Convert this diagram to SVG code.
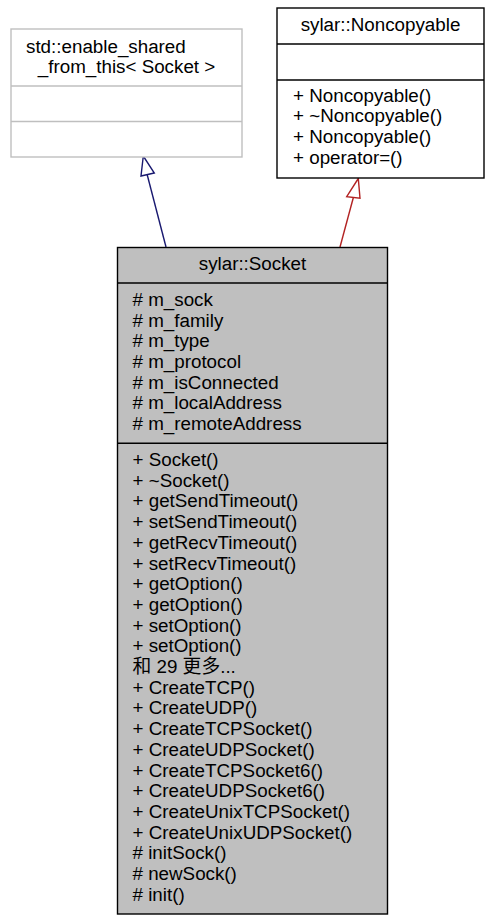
<svg xmlns="http://www.w3.org/2000/svg" width="488" height="918" viewBox="0 0 488 918">
<style>
text{font-family:"Liberation Sans",Arial,"Noto Sans CJK SC",sans-serif;font-size:18.8px;fill:#000}
.c{text-anchor:middle}
.box{fill:#fff;stroke:#000;stroke-width:1.4}
.ext{fill:#fff;stroke:#bfbfbf;stroke-width:1.4}
.cur{fill:#bfbfbf;stroke:#000;stroke-width:1.4}
.sep{stroke:#000;stroke-width:1.4}
.sepx{stroke:#bfbfbf;stroke-width:1.4}
</style>
<rect width="488" height="918" fill="#fff"/>
<g id="connectors">
<g id="edge-enable">
<line x1="166" y1="247" x2="147" y2="174" stroke="#191970" stroke-width="1.4"/>
<polygon points="143.3,156 141,176 154.3,173" fill="#fff" stroke="#191970" stroke-width="1.4"/>
</g>
<g id="edge-noncopyable">
<line x1="340" y1="247" x2="353.5" y2="197" stroke="#b22222" stroke-width="1.4"/>
<polygon points="358.3,178.5 346.7,196.7 360,198.3" fill="#fff" stroke="#b22222" stroke-width="1.4"/>
</g>
</g>
<g id="node-enable_shared_from_this">
<rect class="ext" x="11" y="29" width="231" height="128"/>
<line class="sepx" x1="11" y1="86" x2="242" y2="86"/>
<line class="sepx" x1="11" y1="121.5" x2="242" y2="121.5"/>
<text x="26" y="52.5">std::enable_shared</text>
<text class="c" x="126.5" y="73">_from_this&lt; Socket &gt;</text>
</g>
<g id="node-Noncopyable">
<rect class="box" x="277" y="8" width="207" height="170"/>
<line class="sep" x1="277" y1="44" x2="484" y2="44"/>
<line class="sep" x1="277" y1="80" x2="484" y2="80"/>
<text class="c" x="380.5" y="31">sylar::Noncopyable</text>
<text x="293" y="101.7">+ Noncopyable()</text>
<text x="293" y="122.4">+ ~Noncopyable()</text>
<text x="293" y="143">+ Noncopyable()</text>
<text x="293" y="163.7">+ operator=()</text>
</g>
<g id="node-Socket">
<rect class="cur" x="117.5" y="247.5" width="270" height="666.5"/>
<line class="sep" x1="117.5" y1="283" x2="387.5" y2="283"/>
<line class="sep" x1="117.5" y1="443.3" x2="387.5" y2="443.3"/>
<text class="c" x="252.5" y="270">sylar::Socket</text>
<text x="132.5" y="306"># m_sock</text>
<text x="132.5" y="326.7"># m_family</text>
<text x="132.5" y="347.3"># m_type</text>
<text x="132.5" y="368"># m_protocol</text>
<text x="132.5" y="388.7"># m_isConnected</text>
<text x="132.5" y="409.3"># m_localAddress</text>
<text x="132.5" y="430"># m_remoteAddress</text>
<text x="132.5" y="466">+ Socket()</text>
<text x="132.5" y="486.7">+ ~Socket()</text>
<text x="132.5" y="507.4">+ getSendTimeout()</text>
<text x="132.5" y="528.1">+ setSendTimeout()</text>
<text x="132.5" y="548.8">+ getRecvTimeout()</text>
<text x="132.5" y="569.5">+ setRecvTimeout()</text>
<text x="132.5" y="590.2">+ getOption()</text>
<text x="132.5" y="610.9">+ getOption()</text>
<text x="132.5" y="631.6">+ setOption()</text>
<text x="132.5" y="652.3">+ setOption()</text>
<text x="132.5" y="673">和 29 更多...</text>
<text x="132.5" y="693.7">+ CreateTCP()</text>
<text x="132.5" y="714.4">+ CreateUDP()</text>
<text x="132.5" y="735.1">+ CreateTCPSocket()</text>
<text x="132.5" y="755.8">+ CreateUDPSocket()</text>
<text x="132.5" y="776.5">+ CreateTCPSocket6()</text>
<text x="132.5" y="797.2">+ CreateUDPSocket6()</text>
<text x="132.5" y="817.9">+ CreateUnixTCPSocket()</text>
<text x="132.5" y="838.6">+ CreateUnixUDPSocket()</text>
<text x="132.5" y="859.3"># initSock()</text>
<text x="132.5" y="880"># newSock()</text>
<text x="132.5" y="900.7"># init()</text>
</g>
</svg>
